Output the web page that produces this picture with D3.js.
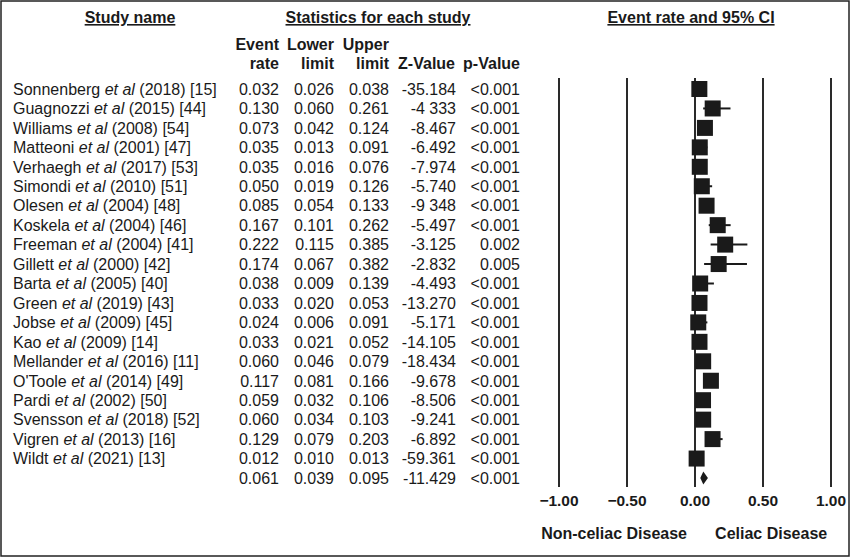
<!DOCTYPE html>
<html>
<head>
<meta charset="utf-8">
<script src="https://cdn.jsdelivr.net/npm/d3@7"></script>
<style>
  body { margin: 0; background: #fff; }
  text { font-family: "Liberation Sans", Arial, sans-serif; fill: #1a1a1a; }
</style>
</head>
<body>
<svg></svg>
<script>
// study names: author, then "et al" in italics, then year and reference
const authors = ["Sonnenberg", "Guagnozzi", "Williams", "Matteoni", "Verhaegh", "Simondi",
    "Olesen", "Koskela", "Freeman", "Gillett", "Barta", "Green", "Jobse", "Kao",
    "Mellander", "O'Toole", "Pardi", "Svensson", "Vigren", "Wildt"];
const refs = ["(2018) [15]", "(2015) [44]", "(2008) [54]", "(2001) [47]", "(2017) [53]", "(2010) [51]",
    "(2004) [48]", "(2004) [46]", "(2004) [41]", "(2000) [42]", "(2005) [40]", "(2019) [43]",
    "(2009) [45]", "(2009) [14]", "(2016) [11]", "(2014) [49]", "(2002) [50]", "(2018) [52]",
    "(2013) [16]", "(2021) [13]"];

// last entry is the pooled estimate
const eventRate = [0.032, 0.130, 0.073, 0.035, 0.035, 0.050, 0.085, 0.167, 0.222, 0.174,
    0.038, 0.033, 0.024, 0.033, 0.060, 0.117, 0.059, 0.060, 0.129, 0.012, 0.061];
const lowerLimit = [0.026, 0.060, 0.042, 0.013, 0.016, 0.019, 0.054, 0.101, 0.115, 0.067,
    0.009, 0.020, 0.006, 0.021, 0.046, 0.081, 0.032, 0.034, 0.079, 0.010, 0.039];
const upperLimit = [0.038, 0.261, 0.124, 0.091, 0.076, 0.126, 0.133, 0.262, 0.385, 0.382,
    0.139, 0.053, 0.091, 0.052, 0.079, 0.166, 0.106, 0.103, 0.203, 0.013, 0.095];
const zValue = ["-35.184", "-4 333", "-8.467", "-6.492", "-7.974", "-5.740", "-9 348", "-5.497",
    "-3.125", "-2.832", "-4.493", "-13.270", "-5.171", "-14.105", "-18.434", "-9.678",
    "-8.506", "-9.241", "-6.892", "-59.361", "-11.429"];
const pValue = ["<0.001", "<0.001", "<0.001", "<0.001", "<0.001", "<0.001", "<0.001", "<0.001",
    "0.002", "0.005", "<0.001", "<0.001", "<0.001", "<0.001", "<0.001", "<0.001",
    "<0.001", "<0.001", "<0.001", "<0.001", "<0.001"];

const axisTicks = [-1, -0.5, 0, 0.5, 1];

const W = 850, H = 557;
const svg = d3.select("svg").attr("width", W).attr("height", H);

svg.append("rect")
    .attr("x", 1).attr("y", 1)
    .attr("width", W - 2).attr("height", H - 2)
    .attr("fill", "none").attr("stroke", "#222").attr("stroke-width", 1.5);

const nRows = eventRate.length;
const y = d3.scaleLinear().domain([0, nRows - 1]).range([89, 478]);
const x = d3.scaleLinear().domain([-1, 1]).range([559, 831]);

// section headers
const headers = [
    { t: "Study name", x: 130 },
    { t: "Statistics for each study", x: 378 },
    { t: "Event rate and 95% CI", x: 691 }
];
headers.forEach(h => {
    svg.append("text")
        .attr("x", h.x).attr("y", 23)
        .attr("text-anchor", "middle")
        .attr("font-size", 16).attr("font-weight", "bold")
        .attr("text-decoration", "underline")
        .text(h.t);
});

// column headers
const cols = [
    { l1: "Event", l2: "rate", x: 279 },
    { l1: "Lower", l2: "limit", x: 334 },
    { l1: "Upper", l2: "limit", x: 389 },
    { l1: "", l2: "Z-Value", x: 455 },
    { l1: "", l2: "p-Value", x: 520 }
];
cols.forEach(c => {
    svg.append("text").attr("x", c.x).attr("y", 50)
        .attr("text-anchor", "end").attr("font-size", 16).attr("font-weight", "bold")
        .text(c.l1);
    svg.append("text").attr("x", c.x).attr("y", 69)
        .attr("text-anchor", "end").attr("font-size", 16).attr("font-weight", "bold")
        .text(c.l2);
});

// study names
authors.forEach((a, i) => {
    const t = svg.append("text")
        .attr("x", 13).attr("y", y(i)).attr("dy", "0.36em")
        .attr("font-size", 16);
    t.append("tspan").text(a + " ");
    t.append("tspan").attr("font-style", "italic").text("et al");
    t.append("tspan").text(" " + refs[i]);
});

// numeric columns
const fmt = d3.format(".3f");
const numCols = [
    { vals: eventRate.map(fmt), x: 279 },
    { vals: lowerLimit.map(fmt), x: 334 },
    { vals: upperLimit.map(fmt), x: 389 },
    { vals: zValue, x: 456 },
    { vals: pValue, x: 520 }
];
numCols.forEach(c => {
    svg.append("g").selectAll("text")
        .data(c.vals)
        .enter().append("text")
        .attr("x", c.x)
        .attr("y", (d, i) => y(i)).attr("dy", "0.36em")
        .attr("text-anchor", "end")
        .attr("font-size", 16)
        .text(d => d);
});

// vertical reference lines
svg.append("g").selectAll("line")
    .data(axisTicks)
    .enter().append("line")
    .attr("x1", d => x(d)).attr("x2", d => x(d))
    .attr("y1", 78).attr("y2", 487)
    .attr("stroke", "#2a2a2a").attr("stroke-width", 2);

// tick labels
svg.append("g").selectAll("text")
    .data(axisTicks)
    .enter().append("text")
    .attr("x", d => x(d)).attr("y", 506)
    .attr("text-anchor", "middle")
    .attr("font-size", 15.5).attr("font-weight", "bold")
    .text(d => d3.format(".2f")(d));

svg.append("text").attr("x", x(-0.595)).attr("y", 539)
    .attr("text-anchor", "middle").attr("font-size", 16).attr("font-weight", "bold")
    .text("Non-celiac Disease");
svg.append("text").attr("x", x(0.56)).attr("y", 539)
    .attr("text-anchor", "middle").attr("font-size", 16).attr("font-weight", "bold")
    .text("Celiac Disease");

// confidence intervals and squares
const studies = d3.range(nRows - 1);
const g = svg.append("g");
g.selectAll("line.ci")
    .data(studies)
    .enter().append("line")
    .attr("class", "ci")
    .attr("x1", i => x(lowerLimit[i])).attr("x2", i => x(upperLimit[i]))
    .attr("y1", i => y(i)).attr("y2", i => y(i))
    .attr("stroke", "#1a1a1a").attr("stroke-width", 2);

const sq = 16;
g.selectAll("rect")
    .data(studies)
    .enter().append("rect")
    .attr("x", i => x(eventRate[i]) - sq / 2)
    .attr("y", i => y(i) - sq / 2)
    .attr("width", sq).attr("height", sq)
    .attr("fill", "#1a1a1a");

// pooled diamond
const p = nRows - 1;
g.append("path")
    .attr("d", d3.line()([
        [x(lowerLimit[p]), y(p)],
        [x(eventRate[p]), y(p) - 6.5],
        [x(upperLimit[p]), y(p)],
        [x(eventRate[p]), y(p) + 6.5]
    ]) + "Z")
    .attr("fill", "#1a1a1a");
</script>
</body>
</html>
